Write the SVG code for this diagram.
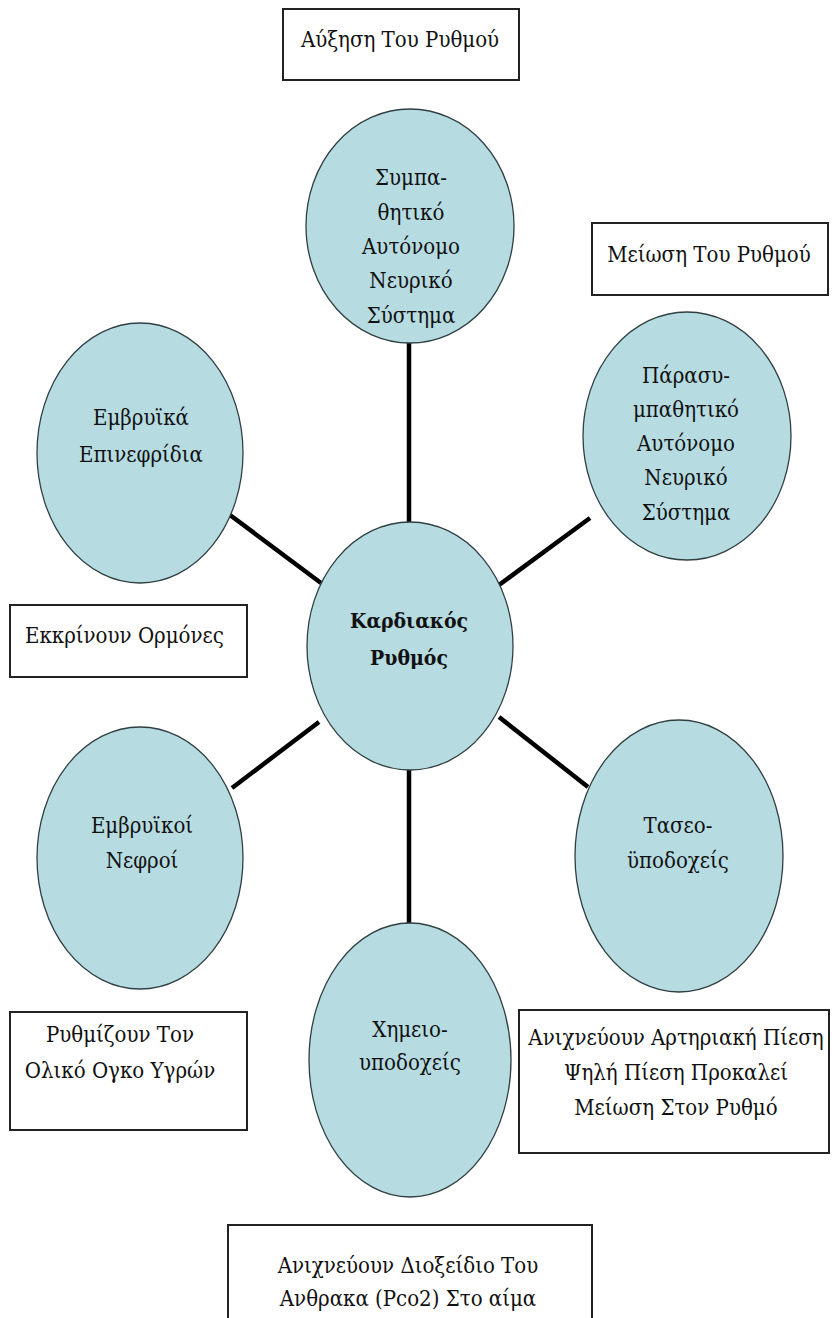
<svg xmlns="http://www.w3.org/2000/svg" width="835" height="1318" viewBox="0 0 835 1318">
  <style>
    .node { fill: #b6dce2; stroke: #2f3f42; stroke-width: 1.3; }
    .box { fill: #ffffff; stroke: #222222; stroke-width: 2; }
    .link { stroke: #000000; stroke-width: 4.5; stroke-linecap: butt; }
    text { font-family: "DejaVu Serif Condensed", "DejaVu Serif", serif; font-stretch: condensed; font-size: 22px; fill: #111111; }
    .c { text-anchor: middle; }
    .b { font-weight: bold; font-size: 21px; }
  </style>
  <rect width="835" height="1318" fill="#ffffff"/>

  <!-- connectors from the central node -->
  <g id="connectors">
    <line class="link" x1="409" y1="342" x2="409" y2="523"/>
    <line class="link" x1="230" y1="515" x2="321" y2="583"/>
    <line class="link" x1="499" y1="585" x2="590" y2="518"/>
    <line class="link" x1="232" y1="788" x2="319" y2="722"/>
    <line class="link" x1="499" y1="717" x2="588" y2="787"/>
    <line class="link" x1="409" y1="769" x2="409" y2="924"/>
  </g>

  <g id="center">
    <ellipse class="node" cx="410" cy="646" rx="103" ry="124"/>
    <text class="c b" x="409" y="628">Καρδιακός</text>
    <text class="c b" x="409" y="665">Ρυθμός</text>
  </g>

  <g id="sympathetic">
    <ellipse class="node" cx="410" cy="226" rx="104" ry="117"/>
    <text class="c" x="411" y="185">Συμπα-</text>
    <text class="c" x="411" y="220">θητικό</text>
    <text class="c" x="411" y="254">Αυτόνομο</text>
    <text class="c" x="411" y="288">Νευρικό</text>
    <text class="c" x="411" y="323">Σύστημα</text>
  </g>

  <g id="parasympathetic">
    <ellipse class="node" cx="687" cy="436" rx="104" ry="124"/>
    <text class="c" x="686" y="383">Πάρασυ-</text>
    <text class="c" x="686" y="417">μπαθητικό</text>
    <text class="c" x="686" y="451">Αυτόνομο</text>
    <text class="c" x="686" y="485">Νευρικό</text>
    <text class="c" x="686" y="520">Σύστημα</text>
  </g>

  <g id="adrenals">
    <ellipse class="node" cx="140" cy="453" rx="103" ry="130"/>
    <text class="c" x="141" y="425">Εμβρυϊκά</text>
    <text class="c" x="141" y="462">Επινεφρίδια</text>
  </g>

  <g id="kidneys">
    <ellipse class="node" cx="140" cy="858" rx="103" ry="131"/>
    <text class="c" x="142" y="833">Εμβρυϊκοί</text>
    <text class="c" x="142" y="868">Νεφροί</text>
  </g>

  <g id="baroreceptors">
    <ellipse class="node" cx="679" cy="856" rx="104" ry="136"/>
    <text class="c" x="678" y="833">Τασεο-</text>
    <text class="c" x="678" y="868">ϋποδοχείς</text>
  </g>

  <g id="chemoreceptors">
    <ellipse class="node" cx="410" cy="1060" rx="101" ry="137"/>
    <text class="c" x="410" y="1037">Χημειο-</text>
    <text class="c" x="410" y="1070">υποδοχείς</text>
  </g>

  <!-- annotation boxes -->
  <g id="note-increase">
    <rect class="box" x="283" y="9" width="236" height="71"/>
    <text class="c" x="400" y="47">Αύξηση Του Ρυθμού</text>
  </g>

  <g id="note-decrease">
    <rect class="box" x="592" y="223" width="236" height="72"/>
    <text class="c" x="709" y="262">Μείωση Του Ρυθμού</text>
  </g>

  <g id="note-hormones">
    <rect class="box" x="10" y="605" width="237" height="72"/>
    <text x="25" y="643">Εκκρίνουν Ορμόνες</text>
  </g>

  <g id="note-volume">
    <rect class="box" x="10" y="1012" width="237" height="118"/>
    <text class="c" x="120" y="1042">Ρυθμίζουν Τον</text>
    <text class="c" x="120" y="1078">Ολικό Ογκο Υγρών</text>
  </g>

  <g id="note-pressure">
    <rect class="box" x="519" y="1010" width="310" height="143"/>
    <text class="c" x="676" y="1045">Ανιχνεύουν Αρτηριακή Πίεση</text>
    <text class="c" x="676" y="1080">Ψηλή Πίεση Προκαλεί</text>
    <text class="c" x="676" y="1115">Μείωση Στον Ρυθμό</text>
  </g>

  <g id="note-co2">
    <rect class="box" x="228" y="1225" width="364" height="110"/>
    <text class="c" x="408" y="1273">Ανιχνεύουν Διοξείδιο Του</text>
    <text class="c" x="408" y="1306">Ανθρακα (Pco2) Στο αίμα</text>
  </g>
</svg>
